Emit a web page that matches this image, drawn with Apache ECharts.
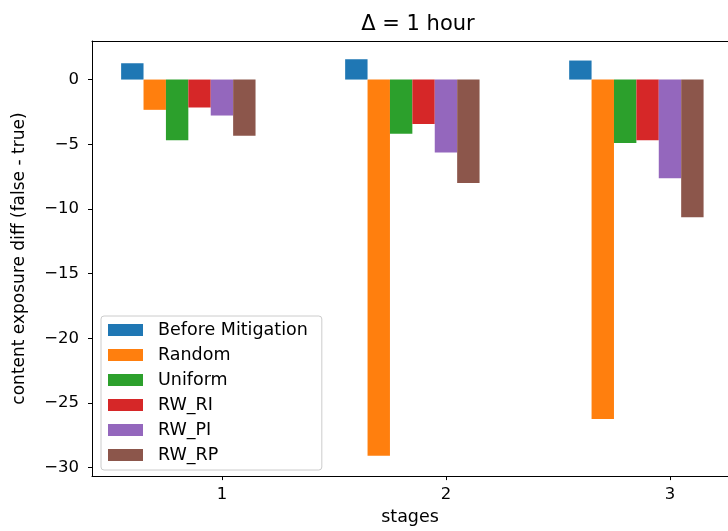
<!DOCTYPE html>
<html>
<head>
<meta charset="utf-8">
<script src="https://cdn.jsdelivr.net/npm/echarts@6/dist/echarts.min.js"></script>
<style>html,body{margin:0;padding:0;background:#fff}#c{width:728px;height:531px}</style>
</head>
<body>
<div id="c"></div>
<script>
const stages = [1, 2, 3];
const seriesNames = ['Before Mitigation', 'Random', 'Uniform', 'RW_RI', 'RW_PI', 'RW_RP'];
const beforeMitigation = [1.26, 1.57, 1.47];
const randomVals = [-2.34, -29.07, -26.24];
const uniformVals = [-4.70, -4.19, -4.91];
const rwRI = [-2.16, -3.44, -4.70];
const rwPI = [-2.78, -5.63, -7.63];
const rwRP = [-4.34, -7.99, -10.64];
const yTicks = [-30, -25, -20, -15, -10, -5, 0];
const xTicks = [1, 2, 3];

const allVals = [beforeMitigation, randomVals, uniformVals, rwRI, rwPI, rwRP];
const colors = ['#1f77b4', '#ff7f0e', '#2ca02c', '#d62728', '#9467bd', '#8c564b'];
const offsets = [-0.4, -0.3, -0.2, -0.1, 0, 0.1];
const barW = 0.1;
const FONT = 'DejaVu Sans';

const series = seriesNames.map((name, i) => ({
  name: name,
  type: 'custom',
  itemStyle: { color: colors[i] },
  data: stages.map((s, j) => [s, allVals[i][j]]),
  renderItem: function (params, api) {
    const x = api.value(0) + offsets[i];
    const v = api.value(1);
    const p0 = api.coord([x - barW / 2, 0]);
    const p1 = api.coord([x + barW / 2, v]);
    return {
      type: 'rect',
      shape: { x: p0[0], y: Math.min(p0[1], p1[1]), width: p1[0] - p0[0], height: Math.abs(p1[1] - p0[1]) },
      style: { fill: colors[i] }
    };
  }
}));

const xMin = 0.42, xMax = 3.259;

const chart = echarts.init(document.getElementById('c'), null, { renderer: 'canvas' });
chart.setOption({
  animation: false,
  backgroundColor: '#fff',
  title: {
    text: 'Δ = 1 hour',
    left: 413,
    textAlign: 'center',
    top: 9,
    textStyle: { fontFamily: FONT, fontSize: 21, fontWeight: 'normal', color: '#000' }
  },
  grid: { left: 92, top: 41, right: 0, bottom: 54, show: false },
  legend: {
    orient: 'vertical',
    left: 101,
    top: 316,
    padding: [5, 14, 6, 7],
    itemWidth: 35,
    itemHeight: 12,
    itemGap: 7,
    icon: 'rect',
    backgroundColor: 'rgba(255,255,255,0.8)',
    borderColor: '#cccccc',
    borderWidth: 1,
    borderRadius: 3,
    textStyle: { fontFamily: FONT, fontSize: 17.5, color: '#000', lineHeight: 14, padding: [0, 0, 0, 10] },
    data: seriesNames
  },
  xAxis: [{
    type: 'value',
    min: xMin,
    max: xMax,
    name: 'stages',
    nameLocation: 'middle',
    nameGap: 31,
    nameTextStyle: { fontFamily: FONT, fontSize: 17.5, color: '#000' },
    splitLine: { show: false },
    axisLine: { show: true, onZero: false, lineStyle: { color: '#000', width: 1 } },
    axisTick: { show: true, length: 4, lineStyle: { color: '#000' }, customValues: xTicks },
    axisLabel: { fontFamily: FONT, fontSize: 16.5, color: '#000', margin: 10, customValues: xTicks }
  }, {
    type: 'value',
    position: 'top',
    min: xMin,
    max: xMax,
    splitLine: { show: false },
    axisLine: { show: true, onZero: false, lineStyle: { color: '#000', width: 1 } },
    axisTick: { show: false },
    axisLabel: { show: false }
  }],
  yAxis: {
    type: 'value',
    min: -30.65,
    max: 2.98,
    name: 'content exposure diff (false - true)',
    nameLocation: 'middle',
    nameRotate: 90,
    nameGap: 64,
    nameTextStyle: { fontFamily: FONT, fontSize: 17, color: '#000' },
    splitLine: { show: false },
    axisLine: { show: true, onZero: false, lineStyle: { color: '#000', width: 1 } },
    axisTick: { show: true, length: 4, lineStyle: { color: '#000' }, customValues: yTicks },
    axisLabel: { fontFamily: FONT, fontSize: 16.5, color: '#000', margin: 13, customValues: yTicks, formatter: v => (v < 0 ? '\u2212' + Math.abs(v) : String(v)) }
  },
  series: series
});
</script>
</body>
</html>
